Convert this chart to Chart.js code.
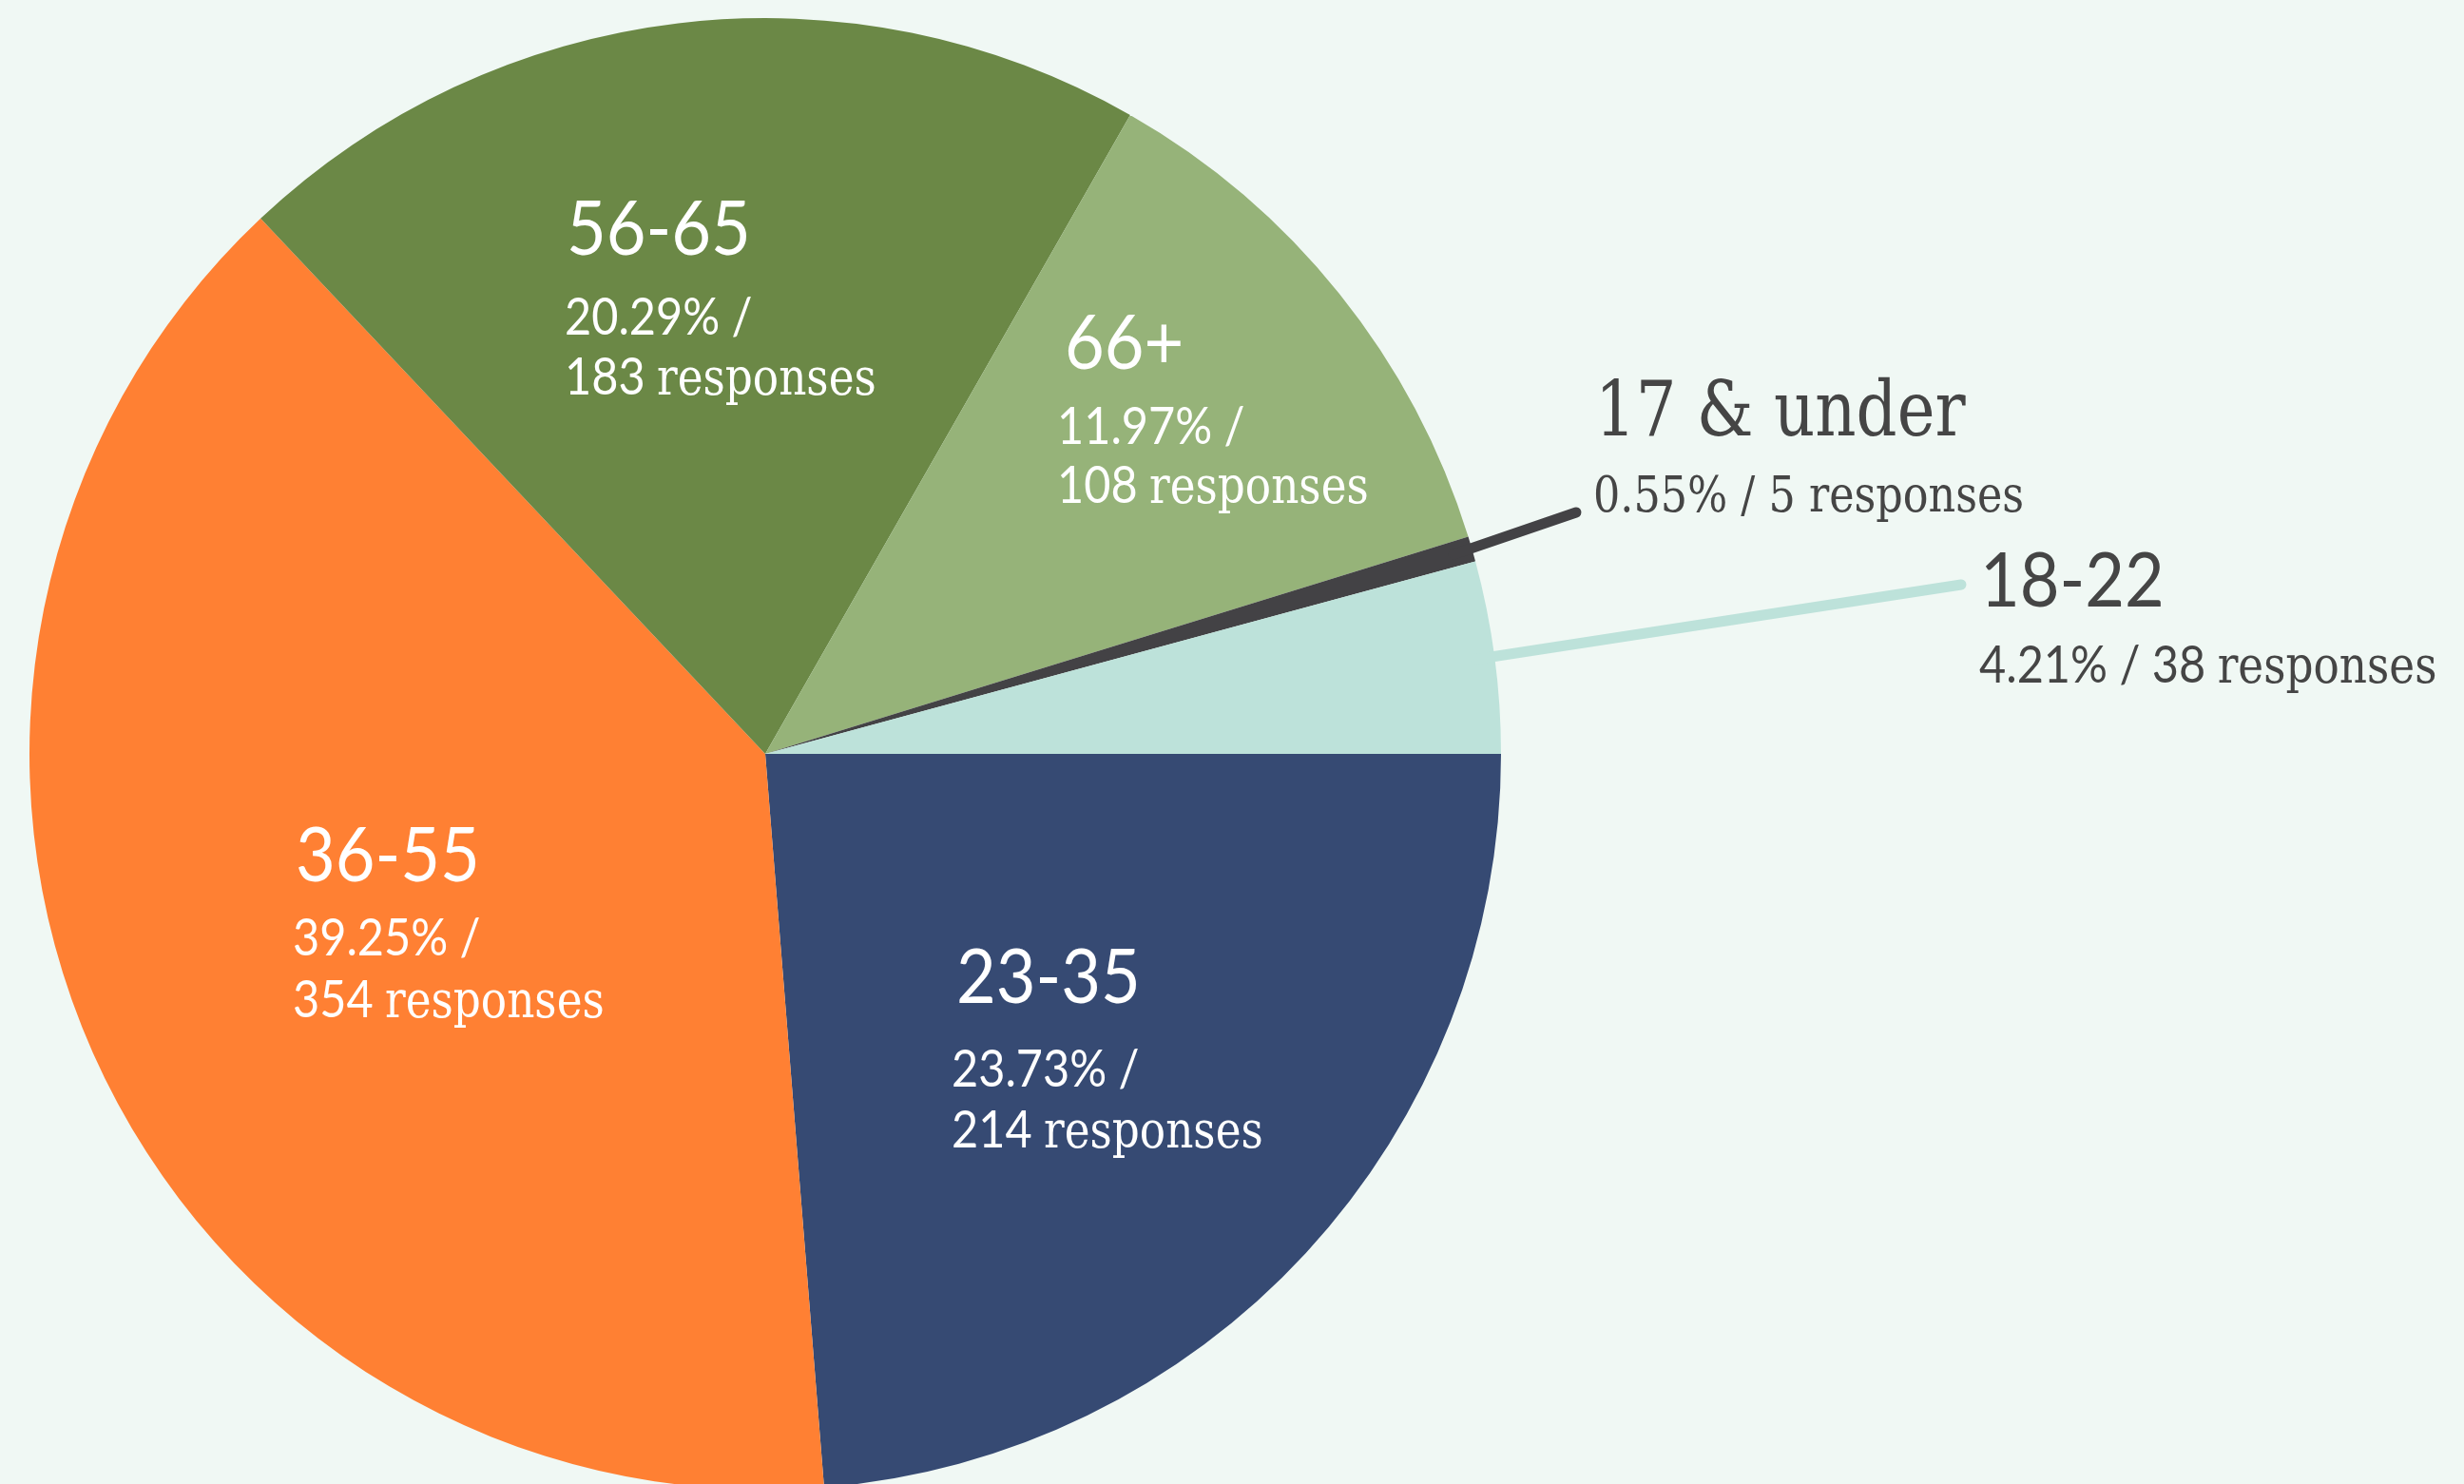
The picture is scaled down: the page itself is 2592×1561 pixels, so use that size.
<!DOCTYPE html>
<html>
<head>
<meta charset="utf-8">
<script src="https://cdn.jsdelivr.net/npm/chart.js@4.4.1/dist/chart.umd.min.js"></script>
<style>
  html, body { margin: 0; padding: 0; background: #F0F8F4; }
  #wrap { position: relative; width: 2592px; height: 1561px; overflow: hidden; background: #F0F8F4; }
  #c { position: absolute; left: 0; top: 0; }
</style>
</head>
<body>
<div id="wrap"><canvas id="c" width="2592" height="1586"></canvas></div>
<script>
// ---- data ----
const categories = ['23-35', '36-55', '56-65', '66+', '17 & under', '18-22'];
const responses = [214, 354, 183, 108, 5, 38];
const percentLabels = ['23.73%', '39.25%', '20.29%', '11.97%', '0.55%', '4.21%'];
const sliceColors = ['#364A73', '#FF8033', '#6B8846', '#96B379', '#434245', '#BDE2DA'];

// ---- layout (label anchors in canvas px) ----
const labelLayout = [
  { inside: true, tx: 1006, ty: 1055, sx: 1001, sy1: 1143, sy2: 1207 },
  { inside: true, tx: 311, ty: 927, sx: 308, sy1: 1005, sy2: 1070 },
  { inside: true, tx: 596, ty: 268, sx: 594, sy1: 352, sy2: 415 },
  { inside: true, tx: 1120, ty: 388, sx: 1112, sy1: 467, sy2: 529 },
  { inside: false, serifTitle: true, tx: 1678, ty: 458, sx: 1676, sy1: 538, lineEnd: [1658, 539], lineColor: '#434245' },
  { inside: false, serifTitle: false, tx: 2083, ty: 638, sx: 2082, sy1: 718, lineEnd: [2063, 615], lineColor: '#BDE2DA' }
];

const F = {
  title: { font: '80px Lato', sx: 0.9 },
  sub: { font: '54px Lato', sx: 0.9 },
  serifWord: { font: '54px "DejaVu Serif"', sx: 0.84 },
  serifTitle: { font: '80px "DejaVu Serif"', sx: 0.84 },
  serifSub: { font: '52px "DejaVu Serif"', sx: 0.855 }
};

function drawSegs(ctx, x, y, segs, color) {
  let cx = x;
  ctx.fillStyle = color;
  ctx.textBaseline = 'alphabetic';
  ctx.textAlign = 'left';
  for (const s of segs) {
    ctx.save();
    ctx.font = s.f.font;
    ctx.translate(cx, y);
    ctx.scale(s.f.sx, 1);
    ctx.fillText(s.t, 0, 0);
    const w = ctx.measureText(s.t).width * s.f.sx;
    ctx.restore();
    cx += w;
  }
}

const labelPlugin = {
  id: 'labelPlugin',
  beforeDraw(chart) {
    const ctx = chart.ctx;
    ctx.save();
    ctx.fillStyle = '#F0F8F4';
    ctx.fillRect(0, 0, chart.width, chart.height);
    ctx.restore();
  },
  afterDatasetsDraw(chart) {
    const ctx = chart.ctx;
    const meta = chart.getDatasetMeta(0);
    ctx.save();
    // callout lines
    meta.data.forEach((arc, i) => {
      const L = labelLayout[i];
      if (L.inside) return;
      const p = arc.getProps(['x', 'y', 'startAngle', 'endAngle', 'outerRadius'], true);
      const mid = (p.startAngle + p.endAngle) / 2;
      const r0 = p.outerRadius - 20;
      ctx.beginPath();
      ctx.moveTo(p.x + Math.cos(mid) * r0, p.y + Math.sin(mid) * r0);
      ctx.lineTo(L.lineEnd[0], L.lineEnd[1]);
      ctx.strokeStyle = L.lineColor;
      ctx.lineWidth = 11;
      ctx.lineCap = 'round';
      ctx.stroke();
    });
    // texts
    meta.data.forEach((arc, i) => {
      const L = labelLayout[i];
      const cat = categories[i];
      if (L.inside) {
        drawSegs(ctx, L.tx, L.ty, [{ t: cat, f: F.title }], '#FFFFFF');
        drawSegs(ctx, L.sx, L.sy1, [{ t: percentLabels[i] + ' /', f: F.sub }], '#FFFFFF');
        drawSegs(ctx, L.sx, L.sy2, [{ t: responses[i] + ' ', f: F.sub }, { t: 'responses', f: F.serifWord }], '#FFFFFF');
      } else if (L.serifTitle) {
        drawSegs(ctx, L.tx, L.ty, [{ t: cat, f: F.serifTitle }], '#454545');
        drawSegs(ctx, L.sx, L.sy1, [{ t: percentLabels[i] + ' / ' + responses[i] + ' responses', f: F.serifSub }], '#454545');
      } else {
        drawSegs(ctx, L.tx, L.ty, [{ t: cat, f: F.title }], '#454545');
        drawSegs(ctx, L.sx, L.sy1, [{ t: percentLabels[i] + ' / ' + responses[i] + ' ', f: F.sub }, { t: 'responses', f: F.serifWord }], '#454545');
      }
    });
    ctx.restore();
  }
};

new Chart(document.getElementById('c'), {
  type: 'pie',
  data: {
    labels: categories,
    datasets: [{
      data: responses,
      backgroundColor: sliceColors,
      borderWidth: 0
    }]
  },
  options: {
    responsive: false,
    animation: false,
    devicePixelRatio: 1,
    rotation: 90,
    radius: 774,
    layout: { padding: { left: 0, right: 982, top: 0, bottom: 0 } },
    plugins: {
      legend: { display: false },
      tooltip: { enabled: false }
    }
  },
  plugins: [labelPlugin]
});
</script>
</body>
</html>
